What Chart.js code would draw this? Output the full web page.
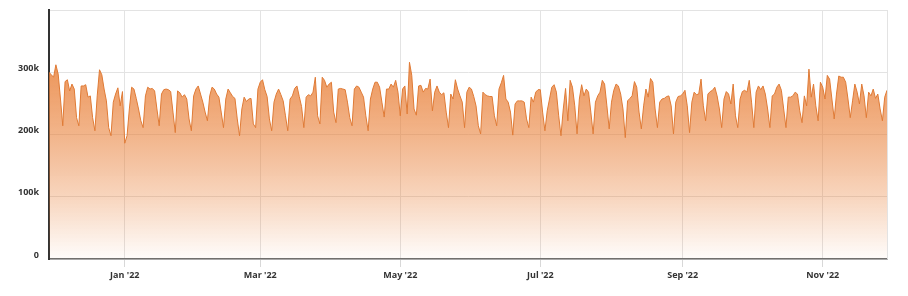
<!DOCTYPE html>
<html>
<head>
<meta charset="utf-8">
<script src="https://cdn.jsdelivr.net/npm/chart.js@4.4.1/dist/chart.umd.min.js"></script>
<style>
  html, body { margin: 0; padding: 0; background: #fff; }
  #wrap { width: 908px; height: 296px; }
</style>
</head>
<body>
<div id="wrap"><canvas id="visitsChart"></canvas></div>
<script>
// Daily series, first point on this date
const startDate = '2021-11-29';

// Daily values in thousands, Mon..Sun per row
const valuesK = [
  300, 296, 292, 312, 297, 257, 214,
  285, 288, 270, 281, 273, 227, 214,
  278, 278, 280, 260, 262, 227, 206,
  262, 304, 296, 273, 254, 211, 198,
  252, 265, 275, 246, 269, 186, 198,
  241, 276, 273, 258, 241, 222, 211,
  262, 276, 273, 274, 270, 241, 214,
  265, 272, 273, 272, 269, 236, 203,
  270, 267, 260, 264, 257, 225, 206,
  262, 273, 278, 265, 252, 236, 222,
  262, 276, 273, 265, 260, 236, 211,
  257, 273, 267, 261, 258, 225, 198,
  241, 260, 253, 257, 258, 217, 211,
  273, 284, 288, 272, 261, 225, 206,
  252, 265, 273, 264, 254, 230, 206,
  257, 262, 274, 278, 261, 245, 211,
  260, 264, 262, 268, 292, 230, 217,
  292, 287, 276, 281, 284, 236, 219,
  273, 274, 273, 272, 252, 227, 214,
  273, 278, 276, 268, 260, 230, 206,
  257, 273, 284, 284, 276, 252, 228,
  273, 273, 281, 276, 287, 268, 230,
  273, 278, 233, 316, 295, 241, 231,
  278, 279, 268, 274, 273, 289, 238,
  268, 278, 268, 264, 267, 236, 211,
  265, 257, 288, 273, 262, 252, 211,
  268, 276, 273, 261, 246, 214, 201,
  268, 264, 262, 261, 261, 230, 214,
  273, 283, 295, 257, 252, 236, 199,
  249, 254, 254, 254, 252, 225, 211,
  260, 252, 268, 272, 272, 236, 206,
  238, 257, 276, 280, 268, 230, 198,
  241, 274, 222, 287, 276, 246, 201,
  257, 280, 262, 273, 268, 236, 201,
  252, 262, 268, 287, 281, 246, 209,
  252, 271, 281, 278, 265, 241, 195,
  254, 258, 262, 285, 276, 236, 209,
  246, 273, 260, 290, 284, 241, 211,
  252, 257, 258, 261, 262, 246, 201,
  252, 261, 262, 265, 271, 246, 203,
  252, 268, 264, 265, 289, 246, 222,
  265, 269, 271, 276, 262, 241, 211,
  257, 269, 265, 249, 281, 230, 211,
  257, 269, 271, 268, 287, 252, 211,
  268, 278, 272, 278, 265, 241, 211,
  262, 265, 276, 281, 271, 241, 211,
  260, 260, 262, 268, 265, 238, 219,
  262, 246, 305, 260, 281, 246, 222,
  284, 276, 257, 295, 289, 257, 225,
  265, 294, 292, 292, 284, 257, 227,
  254, 281, 268, 249, 281, 262, 227,
  268, 262, 273, 258, 265, 241, 222,
  260, 271
];

// x axis ticks
const tickDates = ['2022-01-01', '2022-03-01', '2022-05-01', '2022-07-01', '2022-09-01', '2022-11-01'];
const tickLabels = ["Jan '22", "Mar '22", "May '22", "Jul '22", "Sep '22", "Nov '22"];

// y axis ticks
const yTicks = [0, 100000, 200000, 300000, 400000];
const yTickLabels = ['0', '100k', '200k', '300k', ''];

const DAY = 24 * 3600 * 1000;
const t0 = Date.parse(startDate + 'T00:00:00Z');
const dayIndex = d => Math.round((Date.parse(d + 'T00:00:00Z') - t0) / DAY);
const tickDays = tickDates.map(dayIndex);

const points = valuesK.map((v, i) => ({ x: i, y: v * 1000 }));

const labelFont = { family: '"Open Sans", sans-serif', size: 9, weight: 'bold' };

// thin border on the right side of the plot
const plotBorder = {
  id: 'plotBorder',
  beforeDatasetsDraw(chart) {
    const { ctx, chartArea } = chart;
    ctx.save();
    ctx.strokeStyle = '#e3e3e3';
    ctx.lineWidth = 1;
    ctx.beginPath();
    ctx.moveTo(chartArea.right + 0.5, chartArea.top);
    ctx.lineTo(chartArea.right + 0.5, chartArea.bottom);
    ctx.stroke();
    ctx.restore();
  }
};

function areaFill(context) {
  const { ctx, chartArea } = context.chart;
  if (!chartArea) return 'rgba(232,124,50,0.6)';
  const g = ctx.createLinearGradient(0, chartArea.top, 0, chartArea.bottom);
  g.addColorStop(0, 'rgba(232,124,50,0.92)');
  g.addColorStop(0.25, 'rgba(232,124,50,0.78)');
  g.addColorStop(0.5, 'rgba(232,124,50,0.57)');
  g.addColorStop(0.75, 'rgba(232,124,50,0.32)');
  g.addColorStop(1, 'rgba(232,124,50,0.02)');
  return g;
}

new Chart(document.getElementById('visitsChart'), {
  type: 'line',
  data: {
    datasets: [{
      data: points,
      borderColor: '#df7a35',
      borderWidth: 1,
      backgroundColor: areaFill,
      fill: 'origin',
      pointRadius: 0,
      tension: 0
    }]
  },
  plugins: [plotBorder],
  options: {
    responsive: true,
    maintainAspectRatio: false,
    animation: false,
    layout: { padding: { left: 0, right: 21, top: 10, bottom: 0 } },
    plugins: {
      legend: { display: false },
      tooltip: { enabled: false }
    },
    scales: {
      x: {
        type: 'linear',
        min: 0,
        max: valuesK.length - 1,
        afterBuildTicks: scale => { scale.ticks = tickDays.map(v => ({ value: v })); },
        afterFit: scale => { scale.height = 37; },
        grid: { color: '#e3e3e3', tickLength: 8, tickColor: '#d8d8d8' },
        border: { display: true, color: '#6f6f6f', width: 1.5 },
        ticks: {
          autoSkip: false,
          maxRotation: 0,
          padding: 3,
          color: '#333',
          font: labelFont,
          callback: value => tickLabels[tickDays.indexOf(value)]
        }
      },
      y: {
        min: 0,
        max: 400000,
        afterBuildTicks: scale => { scale.ticks = yTicks.map(v => ({ value: v })); },
        afterFit: scale => {
          scale.width = 49;
          scale.paddingTop = 0;
          scale.paddingBottom = 0;
        },
        grid: { color: '#e3e3e3', drawTicks: false },
        border: { display: true, color: '#333', width: 2 },
        ticks: {
          padding: 10,
          labelOffset: -4,
          color: '#333',
          font: labelFont,
          callback: value => yTickLabels[yTicks.indexOf(value)]
        }
      }
    }
  }
});
</script>
</body>
</html>
